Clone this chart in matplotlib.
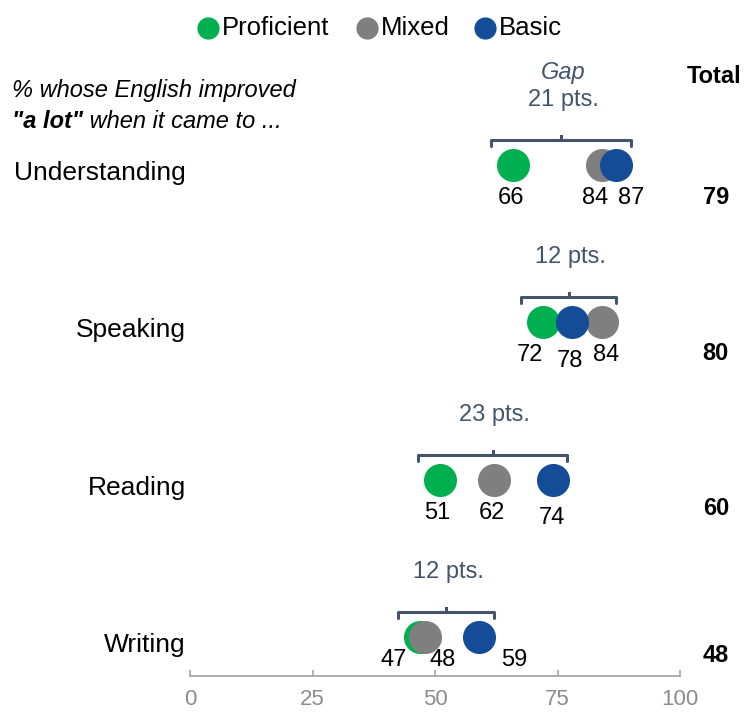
import matplotlib
matplotlib.use("Agg")
import matplotlib.pyplot as plt

plt.rcParams['font.family'] = ['Liberation Sans', 'DejaVu Sans']

# data
categories = ["Understanding", "Speaking", "Reading", "Writing"]
proficient = [66, 72, 51, 47]
mixed = [84, 84, 62, 48]
basic = [87, 78, 74, 59]
totals = [79, 80, 60, 48]
x_ticks = [0, 25, 50, 75, 100]
series_names = ["Proficient", "Mixed", "Basic"]

# colours
GREEN = "#00b050"
GRAY = "#7f7f7f"
BLUE = "#154c98"
SLATE = "#44546a"
AXIS_GRAY = "#a6a6a6"

# label nudges in pixels (dx, dy) per row, order proficient / mixed / basic
nudges = [
    [(-2, 0), (-6, 0), (15, 0)],
    [(-13, 0), (5, 0), (-2, -6)],
    [(-3, 0), (-2, 0), (-1, -5)],
    [(-27, 10), (17, 10), (35, 10)],
]
# vertical offset of the totals column under each row (pixels)
total_dy = [-32, -31, -29, -18]

W, H = 745, 713
ROW_PX = 157.3

fig = plt.figure(figsize=(W / 100, H / 100), dpi=100)
ax = fig.add_axes([190 / W, 37 / H, 490 / W, 676 / H])
ax.set_xlim(0, 100)
ax.set_ylim(-39 / ROW_PX, 637 / ROW_PX)

rows = [len(categories) - 1 - i for i in range(len(categories))]

# dots, green at the bottom and blue on top
for vals, col, z in [(proficient, GREEN, 3), (mixed, GRAY, 4), (basic, BLUE, 5)]:
    ax.plot(vals, rows, 'o', ms=23.8, color=col, mec='none', zorder=z, clip_on=False)

for i, r in enumerate(rows):
    vals = [proficient[i], mixed[i], basic[i]]
    # value labels under dots
    for j, v in enumerate(vals):
        dx, dy = nudges[i][j]
        ax.annotate(str(v), (v, r), xytext=(dx, -33 + dy), textcoords='offset pixels',
                    ha='center', va='center', fontsize=17, color='black')
    # gap bracket
    lo, hi = min(vals), max(vals)
    b_lo, b_hi = lo - 4.5, hi + 3.0
    mid = (b_lo + b_hi) / 2
    yb = r + 25 / ROW_PX
    d = 6 / ROW_PX
    ax.plot([b_lo, b_lo, b_hi, b_hi], [yb - d, yb, yb, yb - d], color=SLATE, lw=2.2,
            solid_joinstyle='round', solid_capstyle='round', clip_on=False)
    ax.plot([mid, mid], [yb, yb + 4 / ROW_PX], color=SLATE, lw=2.2, clip_on=False)
    ax.annotate("%d pts." % (hi - lo), (mid, yb), xytext=(2, 40), textcoords='offset pixels',
                ha='center', va='center', fontsize=17, color=SLATE)
    if i == 0:
        ax.annotate("Gap", (mid, yb), xytext=(2, 68), textcoords='offset pixels',
                    ha='center', va='center', fontsize=17, color=SLATE, style='italic')
        ax.annotate("Total", (107.0, r), xytext=(0, 89), textcoords='offset pixels',
                    ha='center', va='center', fontsize=17, fontweight='bold', annotation_clip=False)
    # totals column
    ax.annotate(str(totals[i]), (107.3, r), xytext=(0, total_dy[i]), textcoords='offset pixels',
                ha='center', va='center', fontsize=17, fontweight='bold', annotation_clip=False)
    # category label
    ax.annotate(categories[i], (0, r), xytext=(-4, -8), textcoords='offset pixels',
                ha='right', va='center', fontsize=19, annotation_clip=False)

# axis styling
for s in ['top', 'right', 'left']:
    ax.spines[s].set_visible(False)
ax.spines['bottom'].set_color(AXIS_GRAY)
ax.spines['bottom'].set_linewidth(1.3)
ax.set_yticks([])
ax.set_xticks(x_ticks)
ax.set_xticklabels([str(t) for t in x_ticks])
ax.tick_params(axis='x', direction='in', length=4.5, width=1.2, color=AXIS_GRAY,
               labelcolor='#8c8c8c', labelsize=16, pad=9.5)
ax.patch.set_alpha(0)

# overlay in pixel coords for legend and subtitle
ov = fig.add_axes([0, 0, 1, 1], zorder=-1)
ov.set_xlim(0, W)
ov.set_ylim(H, 0)
ov.axis('off')

leg_x = [208, 367, 485]
for name, col, lx in zip(series_names, [GREEN, GRAY, BLUE], leg_x):
    ov.plot([lx], [28], 'o', ms=16, color=col, mec='none')
    ov.text(lx + 14, 28, name, ha='left', va='center', fontsize=18.5)

ov.text(12, 90, "% whose English improved", ha='left', va='center', fontsize=17, style='italic')
t1 = ov.text(12, 121, '"a lot"', ha='left', va='center', fontsize=17, style='italic', fontweight='bold')
fig.canvas.draw()
bb = t1.get_window_extent()
x_end = ov.transData.inverted().transform((bb.x1, bb.y0))[0]
ov.text(x_end, 121, " when it came to ...", ha='left', va='center', fontsize=17, style='italic')

fig.savefig("out.png", dpi=100)
